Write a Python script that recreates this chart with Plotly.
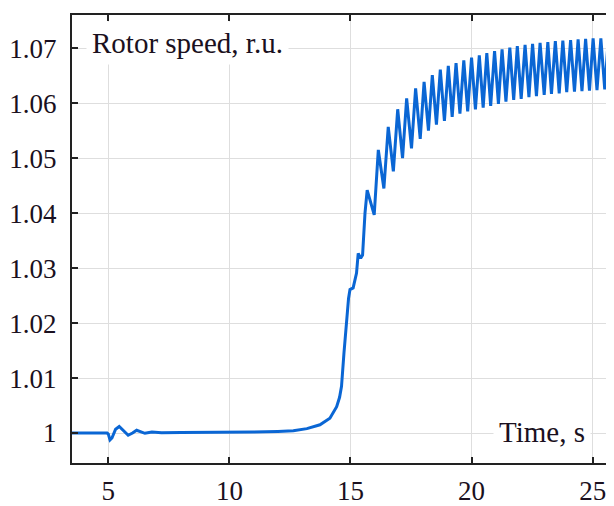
import plotly.graph_objects as go

# transient part (time s, rotor speed r.u.)
t_start = [3.5, 4.95, 5.0, 5.07, 5.15, 5.3, 5.45, 5.6, 5.82, 6.0, 6.17, 6.35, 6.51, 6.8,
           7.2, 8.0, 10.0, 11.0, 12.0, 12.64, 13.2, 13.74, 14.15, 14.43, 14.55, 14.63,
           14.73, 14.84, 14.92, 14.98, 15.11, 15.25, 15.32, 15.42, 15.50, 15.60]
w_start = [1.0, 1.0, 0.9998, 0.99875, 0.9991, 1.0007, 1.0012, 1.0006, 0.9996, 1.0, 1.0005,
           1.0002, 0.99995, 1.0002, 1.00005, 1.0001, 1.0001, 1.0002, 1.0003, 1.0004, 1.0008,
           1.0015, 1.0027, 1.0048, 1.0065, 1.0085, 1.0145, 1.0206, 1.0245, 1.0261, 1.0264,
           1.0291, 1.0327, 1.0318, 1.0324, 1.04]

# oscillation peaks
peak_t = [15.69, 16.15, 16.56, 16.95, 17.32, 17.69, 18.04, 18.38, 18.71, 19.04, 19.36,
          19.68, 20.00, 20.32, 20.63, 20.95, 21.26, 21.58, 21.89, 22.21, 22.52, 22.83,
          23.15, 23.46, 23.77, 24.09, 24.40, 24.71, 25.02, 25.34, 25.65]
peak_w = [1.0442, 1.0515, 1.0557, 1.0589, 1.0609, 1.0627, 1.0639, 1.0651, 1.0661, 1.0668,
          1.0673, 1.0678, 1.0683, 1.0687, 1.0691, 1.0695, 1.0698, 1.0701, 1.0704, 1.0706,
          1.0708, 1.0710, 1.0711, 1.0713, 1.0714, 1.0715, 1.0716, 1.0717, 1.0718, 1.0718,
          1.0719]

# oscillation troughs
trough_t = [15.98, 16.38, 16.77, 17.15, 17.52, 17.88, 18.22, 18.55, 18.88, 19.20, 19.52,
            19.84, 20.16, 20.48, 20.79, 21.11, 21.42, 21.74, 22.05, 22.37, 22.68, 23.00,
            23.30, 23.62, 23.93, 24.25, 24.56, 24.87, 25.18, 25.50, 25.80]
trough_w = [1.0397, 1.0445, 1.0476, 1.0500, 1.0518, 1.0535, 1.0550, 1.0561, 1.0568, 1.0575,
            1.0581, 1.0585, 1.0589, 1.0592, 1.0595, 1.0599, 1.0603, 1.0606, 1.0608, 1.0611,
            1.0613, 1.0615, 1.0617, 1.0618, 1.0620, 1.0621, 1.0622, 1.0623, 1.0624, 1.0625,
            1.0626]

x_ticks = [5, 10, 15, 20, 25]
y_ticks = [1.0, 1.01, 1.02, 1.03, 1.04, 1.05, 1.06, 1.07]
y_tick_labels = ["1", "1.01", "1.02", "1.03", "1.04", "1.05", "1.06", "1.07"]

osc = sorted(zip(peak_t + trough_t, peak_w + trough_w))
t_all = t_start + [p[0] for p in osc]
w_all = w_start + [p[1] for p in osc]

fig = go.Figure()
fig.add_trace(go.Scatter(x=t_all, y=w_all, mode="lines",
                         line=dict(color="#0a66d4", width=3), showlegend=False,
                         hoverinfo="skip"))

font = "Liberation Serif, Times New Roman, serif"
axis_common = dict(showline=True, linecolor="#222222", linewidth=2, mirror="ticks",
                   ticks="inside", ticklen=6, tickwidth=2, tickcolor="#222222",
                   showgrid=True, gridcolor="#dedede", gridwidth=1.3, zeroline=False,
                   automargin=False,
                   tickfont=dict(family=font, size=27, color="#1a1020"))

# page body has an 8px margin, so the figure is 8px smaller and margins shifted
fig.update_layout(
    width=606, height=498,
    margin=dict(l=64, r=2, t=7, b=43),
    paper_bgcolor="white", plot_bgcolor="white",
    xaxis=dict(range=[3.5, 25.8], tickvals=x_ticks, ticklabelstandoff=3, **axis_common),
    yaxis=dict(range=[0.99455, 1.07605], tickvals=y_ticks, ticktext=y_tick_labels,
               ticklabelstandoff=8, **axis_common),
    annotations=[
        dict(text="Rotor speed, r.u.", xref="paper", yref="paper", x=0.026, y=0.9375,
             xanchor="left", yanchor="middle", showarrow=False, bgcolor="white",
             borderpad=5, font=dict(family=font, size=29, color="#1a1020")),
        dict(text="Time, s", xref="paper", yref="paper", x=0.962, y=0.069,
             xanchor="right", yanchor="middle", showarrow=False, bgcolor="white",
             borderpad=5, font=dict(family=font, size=29, color="#1a1020")),
    ],
)

fig.write_html("out.html")
